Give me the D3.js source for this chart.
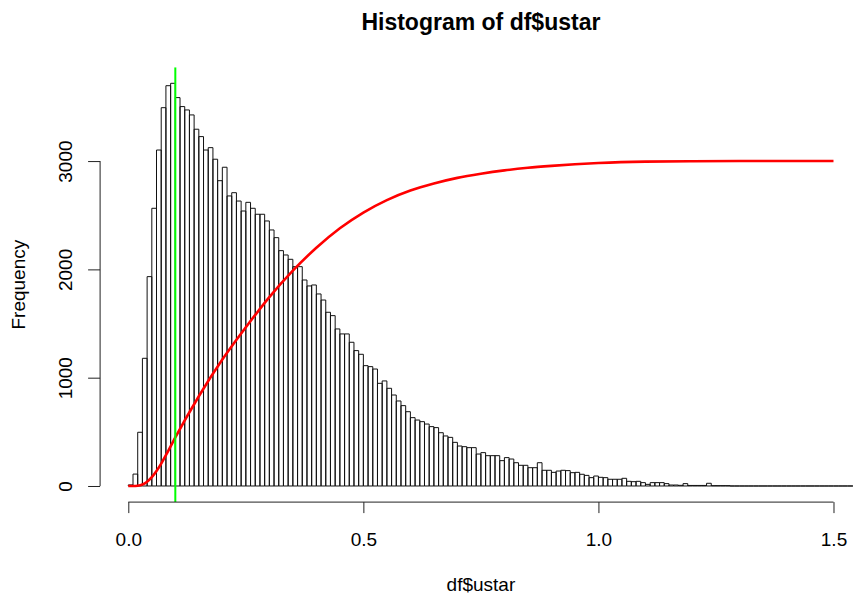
<!DOCTYPE html>
<html>
<head>
	<title>Histogram of df$ustar</title>
	<script src="https://d3js.org/d3.v7.min.js"></script>
	<style>
		body { margin: 0; background: #fff; }
		text { font-family: "Liberation Sans", Arial, sans-serif; fill: #000; }
	</style>
</head>
<body>
	<script type="text/javascript">

		// bin width 0.01, bins start at 0
		var binWidth = 0.01;
		var counts = [
			10, 110, 496, 1179, 1933, 2564, 3102, 3493, 3696, 3718,
			3586, 3503, 3472, 3426, 3294, 3226, 3102, 3124, 3017, 2819,
			2943, 2678, 2708, 2631, 2539, 2619, 2564, 2509, 2509, 2447,
			2364, 2293, 2173, 2133, 2093, 2025, 2025, 1902, 1847, 1856,
			1773, 1717, 1604, 1573, 1450, 1404, 1404, 1327, 1250, 1216,
			1111, 1102, 1080, 948, 970, 902, 840, 785, 742, 686,
			631, 609, 594, 572, 548, 539, 492, 462, 449, 403,
			369, 363, 354, 354, 295, 308, 280, 280, 280, 234,
			262, 249, 215, 191, 191, 169, 169, 215, 145, 145,
			126, 138, 145, 142, 123, 126, 108, 98, 77, 92,
			80, 77, 62, 62, 62, 71, 43, 40, 43, 31,
			15, 31, 31, 31, 22, 9, 9, 6, 22, 5,
			5, 5, 5, 25, 3, 3, 3, 3, 0, 0,
			0, 0, 0, 0, 0, 0, 0, 0, 0, 0,
			0, 0, 0, 0, 0, 0, 0, 0, 0, 0,
			0, 0, 0, 0, 0, 0, 0, 0, 0, 0
		];

		// red cumulative curve (scaled to 3000)
		var cdfX = [0, 0.01, 0.02, 0.03, 0.04, 0.05, 0.06, 0.07, 0.08, 0.09, 0.10,
			0.15, 0.20, 0.25, 0.30, 0.35, 0.40, 0.45, 0.50, 0.55, 0.60, 0.65,
			0.70, 0.75, 0.80, 0.85, 0.90, 0.95, 1.00, 1.10, 1.20, 1.30, 1.50];
		var cdfY = [0, 0, 3, 14, 40, 82, 139, 207, 284, 366, 448,
			829, 1167, 1465, 1744, 1988, 2200, 2380, 2525, 2640, 2728, 2793,
			2845, 2883, 2914, 2938, 2956, 2971, 2982, 2995, 2999, 3000, 3000];

		var vline = 0.1;
		var xTicks = [0, 0.5, 1.0, 1.5];
		var yTicks = [0, 1000, 2000, 3000];

		var width = 853, height = 595;
		var pLeft = 100.1, pRight = 861.7, pTop = 67.2, pBottom = 502.1;

		var ymax = d3.max(counts);
		var x = d3.scaleLinear().domain([-0.06, 1.56]).range([pLeft, pRight]);
		var y = d3.scaleLinear().domain([-0.04 * ymax, ymax * 1.04]).range([pBottom, pTop]);

		var svg = d3.select("body").append("svg")
			.attr("width", width)
			.attr("height", height);

		svg.append("defs").append("clipPath").attr("id", "plot")
			.append("rect")
			.attr("x", pLeft).attr("y", pTop)
			.attr("width", pRight - pLeft).attr("height", pBottom - pTop);

		var plot = svg.append("g").attr("clip-path", "url(#plot)");

		// bars as closed paths so empty bins still show as a flat line
		plot.selectAll("path.bar")
			.data(counts)
			.enter()
				.append("path")
				.attr("class", "bar")
				.attr("d", function (d, i) {
					var x0 = x(i * binWidth), x1 = x((i + 1) * binWidth);
					return "M" + x0 + "," + y(0) + "V" + y(d) + "H" + x1 + "V" + y(0) + "Z";
				})
				.attr("fill", "none")
				.attr("stroke", "#111")
				.attr("stroke-width", 1);

		var line = d3.line()
			.x(function (d, i) { return x(cdfX[i]); })
			.y(function (d) { return y(d); })
			.curve(d3.curveMonotoneX);

		plot.append("path")
			.datum(cdfY)
			.attr("d", line)
			.attr("fill", "none")
			.attr("stroke", "#ff0000")
			.attr("stroke-width", 2.6);

		plot.append("line")
			.attr("x1", x(vline)).attr("x2", x(vline))
			.attr("y1", pTop).attr("y2", pBottom)
			.attr("stroke", "#00ff00")
			.attr("stroke-width", 2);

		// axes, R style: line only from first to last tick
		var xAxis = d3.axisBottom(x).tickValues(xTicks).tickSize(11)
			.tickPadding(19).tickFormat(d3.format(".1f"));
		var gx = svg.append("g")
			.attr("transform", "translate(0," + pBottom + ")")
			.call(xAxis);
		gx.select(".domain").remove();
		gx.append("line")
			.attr("x1", x(xTicks[0])).attr("x2", x(xTicks[xTicks.length - 1]))
			.attr("stroke", "#222");
		gx.selectAll(".tick line").attr("stroke", "#222");
		gx.selectAll(".tick text")
			.attr("font-size", "19px")
			.attr("font-family", "Liberation Sans, Arial, sans-serif")
			.attr("fill", "#111");

		var yAxis = d3.axisLeft(y).tickValues(yTicks).tickSize(12)
			.tickFormat(d3.format("d"));
		var gy = svg.append("g")
			.attr("transform", "translate(" + pLeft + ",0)")
			.call(yAxis);
		gy.select(".domain").remove();
		gy.append("line")
			.attr("y1", y(yTicks[0])).attr("y2", y(yTicks[yTicks.length - 1]))
			.attr("stroke", "#222");
		gy.selectAll(".tick line").attr("stroke", "#222");
		gy.selectAll(".tick text")
			.attr("font-size", "19px")
			.attr("font-family", "Liberation Sans, Arial, sans-serif")
			.attr("fill", "#111")
			.attr("x", null).attr("dy", null)
			.attr("text-anchor", "middle")
			.attr("transform", "translate(-28.5,0) rotate(-90)")
			.attr("y", 0);

		svg.append("text")
			.attr("x", (pLeft + pRight) / 2)
			.attr("y", 30)
			.attr("text-anchor", "middle")
			.attr("font-size", "23px")
			.attr("font-weight", "bold")
			.text("Histogram of df$ustar");

		svg.append("text")
			.attr("x", (pLeft + pRight) / 2)
			.attr("y", 590.5)
			.attr("text-anchor", "middle")
			.attr("font-size", "19px")
			.attr("fill", "#111")
			.text("df$ustar");

		svg.append("text")
			.attr("transform", "translate(25," + (pTop + pBottom) / 2 + ") rotate(-90)")
			.attr("text-anchor", "middle")
			.attr("font-size", "19px")
			.attr("fill", "#111")
			.text("Frequency");

	</script>
</body>
</html>
